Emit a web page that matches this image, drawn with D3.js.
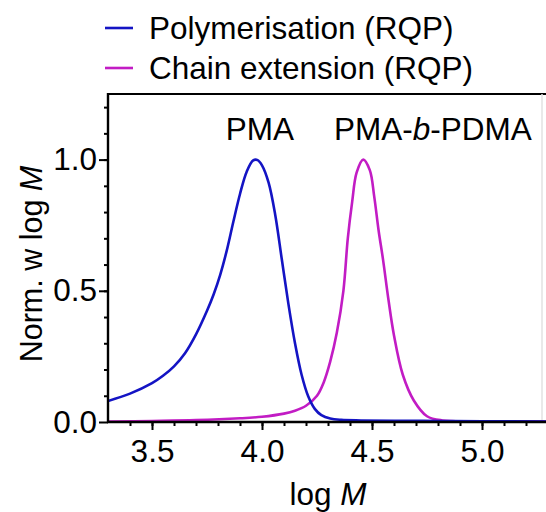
<!DOCTYPE html>
<html>
<head>
<meta charset="utf-8">
<script src="https://cdn.jsdelivr.net/npm/d3@7"></script>
<style>
  body { margin: 0; background: #fff; }
  svg { display: block; font-family: "Liberation Sans", Arial, sans-serif; }
</style>
</head>
<body>
<div id="chart"></div>
<script>
// log M values and normalised w(log M)
const pmaLogM = [3.30, 3.40, 3.50, 3.55, 3.60, 3.65, 3.70, 3.75, 3.78, 3.81, 3.84, 3.87, 3.90, 3.93, 3.96, 3.98, 4.00, 4.03, 4.06, 4.09, 4.12, 4.15, 4.18, 4.21, 4.24, 4.27, 4.31, 4.36, 4.45, 4.60, 4.80, 5.00, 5.30];
const pmaW    = [0.080, 0.108, 0.148, 0.176, 0.212, 0.262, 0.334, 0.424, 0.486, 0.561, 0.654, 0.764, 0.869, 0.953, 0.997, 0.998, 0.978, 0.912, 0.790, 0.620, 0.450, 0.300, 0.180, 0.098, 0.050, 0.026, 0.013, 0.008, 0.006, 0.005, 0.004, 0.003, 0.002];

const blockLogM = [3.30, 3.50, 3.70, 3.90, 4.00, 4.10, 4.15, 4.20, 4.25, 4.28, 4.31, 4.34, 4.37, 4.39, 4.41, 4.43, 4.46, 4.49, 4.51, 4.53, 4.55, 4.575, 4.60, 4.64, 4.69, 4.75, 4.82, 5.00, 5.30];
const blockW    = [0.002, 0.004, 0.007, 0.014, 0.020, 0.032, 0.043, 0.062, 0.100, 0.150, 0.230, 0.340, 0.500, 0.700, 0.840, 0.950, 1.000, 0.960, 0.860, 0.730, 0.620, 0.465, 0.330, 0.180, 0.082, 0.022, 0.006, 0.003, 0.002];

const seriesNames = ["Polymerisation (RQP)", "Chain extension (RQP)"];
const seriesColors = ["#1414c4", "#c21cc4"];
const peakLabels = ["PMA", "PMA-b-PDMA"];
const peakLabelX = [3.99, 4.777];

const xMajor = [3.5, 4.0, 4.5, 5.0];
const yMajor = [0.0, 0.5, 1.0];

const width = 546, height = 512;
const mLeft = 108, mRight = 548, mTop = 94, mBottom = 422;

const svg = d3.select("#chart").append("svg")
    .attr("width", width)
    .attr("height", height);

const x = d3.scaleLinear().domain([3.3, 5.3]).range([mLeft, mRight]);
const y = d3.scaleLinear().domain([0, 1.25]).range([mBottom, mTop]);

const fontSize = 31.5;

// frame: top border black, right edge faint
svg.append("line")
    .attr("x1", mLeft).attr("x2", mRight)
    .attr("y1", mTop).attr("y2", mTop)
    .attr("stroke", "#000").attr("stroke-width", 2.2);
svg.append("line")
    .attr("x1", 542).attr("x2", 542)
    .attr("y1", mTop).attr("y2", mBottom)
    .attr("stroke", "#e2e2e2").attr("stroke-width", 1.5);

// curves
const line = d3.line()
    .x(d => x(d[0]))
    .y(d => y(d[1]))
    .curve(d3.curveCatmullRom.alpha(0.5));

const series = [d3.zip(pmaLogM, pmaW), d3.zip(blockLogM, blockW)];

svg.append("defs").append("clipPath").attr("id", "clip")
  .append("rect").attr("x", mLeft).attr("y", mTop).attr("width", mRight - mLeft).attr("height", mBottom - mTop + 2);

// draw magenta first, blue on top
[1, 0].forEach(i => {
    svg.append("path")
        .datum(series[i])
        .attr("clip-path", "url(#clip)")
        .attr("fill", "none")
        .attr("stroke", seriesColors[i])
        .attr("stroke-width", 2.6)
        .attr("stroke-linejoin", "round")
        .attr("d", line);
});

// x axis
const xAxis = svg.append("g").attr("transform", `translate(0,${mBottom})`);
xAxis.call(d3.axisBottom(x).tickValues(d3.range(34, 53).map(v => v / 10)).tickSize(4).tickFormat(""));
xAxis.append("g").call(d3.axisBottom(x).tickValues(xMajor).tickSize(8).tickPadding(10).tickFormat(d3.format(".1f")));
xAxis.selectAll(".domain").remove();
xAxis.selectAll(".tick line").attr("stroke", "#000").attr("stroke-width", 2);
xAxis.selectAll("text").attr("font-size", fontSize).attr("fill", "#000").attr("font-family", null);
xAxis.append("line").attr("x1", mLeft - 1).attr("x2", mRight).attr("stroke", "#000").attr("stroke-width", 2.4);

// y axis
const yAxis = svg.append("g").attr("transform", `translate(${mLeft},0)`);
yAxis.call(d3.axisLeft(y).tickValues(d3.range(1, 13).map(v => v / 10)).tickSize(4).tickFormat(""));
yAxis.append("g").call(d3.axisLeft(y).tickValues(yMajor).tickSize(9).tickPadding(2).tickFormat(d3.format(".1f")));
yAxis.selectAll(".domain").remove();
yAxis.selectAll(".tick line").attr("stroke", "#000").attr("stroke-width", 2);
yAxis.selectAll("text").attr("font-size", fontSize).attr("fill", "#000").attr("font-family", null);
yAxis.append("line").attr("y1", mTop - 1).attr("y2", mBottom + 1).attr("stroke", "#000").attr("stroke-width", 2.4);

// axis titles
const xTitle = svg.append("text")
    .attr("x", (mLeft + mRight) / 2).attr("y", 505)
    .attr("text-anchor", "middle").attr("font-size", fontSize);
xTitle.append("tspan").text("log ");
xTitle.append("tspan").attr("font-style", "italic").text("M");

const yTitle = svg.append("text")
    .attr("transform", `translate(42,${(mTop + mBottom) / 2 + 6}) rotate(-90)`)
    .attr("text-anchor", "middle").attr("font-size", fontSize - 1);
yTitle.append("tspan").text("Norm. w log ");
yTitle.append("tspan").attr("font-style", "italic").text("M");

// peak labels
svg.append("text")
    .attr("x", x(peakLabelX[0])).attr("y", 140)
    .attr("text-anchor", "middle").attr("font-size", fontSize)
    .text(peakLabels[0]);
const lb = svg.append("text")
    .attr("x", x(peakLabelX[1])).attr("y", 140)
    .attr("text-anchor", "middle").attr("font-size", fontSize);
const parts = peakLabels[1].split("b");
lb.append("tspan").text(parts[0]);
lb.append("tspan").attr("font-style", "italic").text("b");
lb.append("tspan").text(parts[1]);

// legend
const legend = svg.append("g");
seriesNames.forEach((name, i) => {
    const yy = 28 + i * 40;
    legend.append("line")
        .attr("x1", 105).attr("x2", 133)
        .attr("y1", yy).attr("y2", yy)
        .attr("stroke", seriesColors[i]).attr("stroke-width", 2.6);
    legend.append("text")
        .attr("x", 149).attr("y", yy + 11)
        .attr("font-size", fontSize)
        .text(name);
});
</script>
</body>
</html>
